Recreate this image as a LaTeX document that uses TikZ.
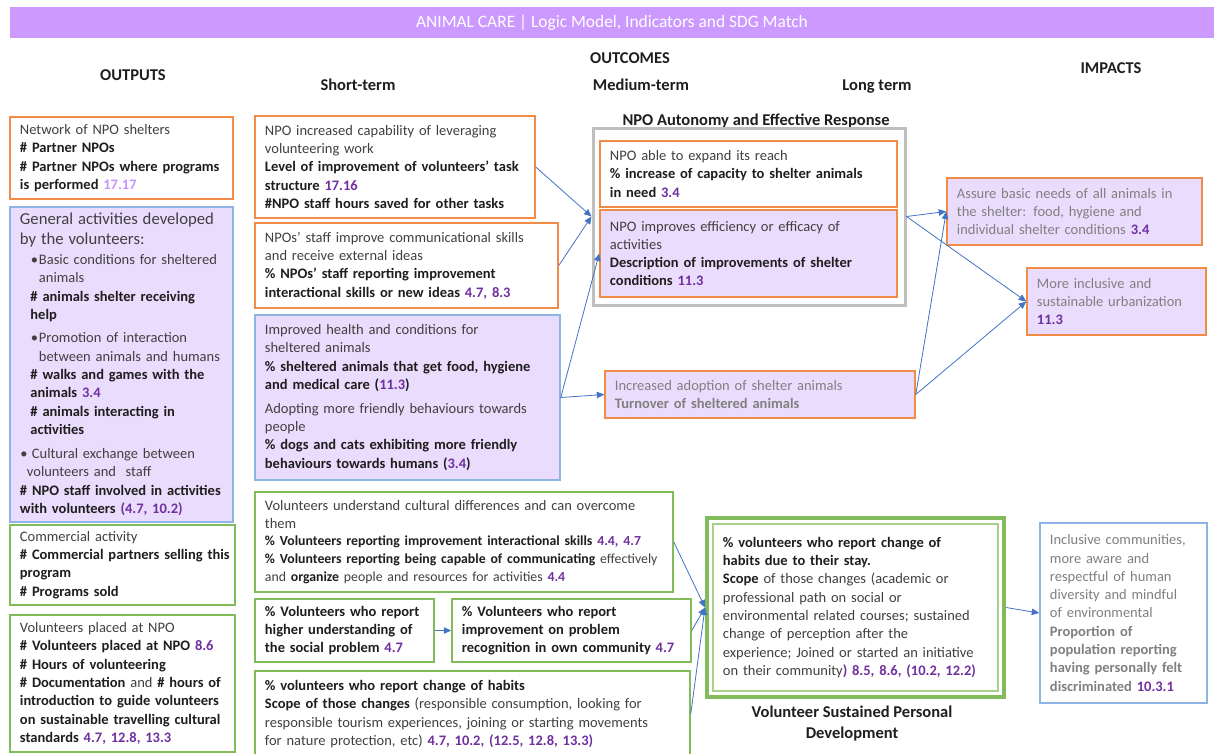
\documentclass[tikz,border=0pt]{standalone}
\usepackage{fontspec}
\setmainfont{Carlito}
\usetikzlibrary{arrows.meta}

% palette
\definecolor{titlec}{RGB}{204,153,255}
\definecolor{orangeb}{RGB}{240,140,70}
\definecolor{blueb}{RGB}{141,180,226}
\definecolor{greenb}{RGB}{130,188,90}
\definecolor{greenl}{RGB}{169,209,142}
\definecolor{lav}{RGB}{234,220,252}
\definecolor{grayb}{RGB}{191,191,191}
\definecolor{tcol}{RGB}{64,64,64}
\definecolor{bk}{RGB}{30,30,30}
\definecolor{gtx}{RGB}{128,128,128}
\definecolor{sdgc}{RGB}{112,48,160}
\definecolor{lp}{RGB}{196,150,250}
\definecolor{arrowc}{RGB}{68,114,196}

% bold indicator text and SDG targets
\newcommand\bb[1]{\textbf{\color{bk}#1}}
\newcommand\sdg[1]{\textbf{\color{sdgc}#1}}

\tikzset{
  box/.style={draw, rectangle, inner sep=0pt, line width=1.5pt},
  obox/.style={box, draw=orangeb, fill=white},
  olbox/.style={box, draw=orangeb, fill=lav},
  bbox/.style={box, draw=blueb, fill=lav},
  bwbox/.style={box, draw=blueb, fill=white},
  gbox/.style={box, draw=greenb, fill=white},
  txt/.style={inner sep=0pt, align=left, font=\fontsize{14.5}{18.3}\selectfont, text=tcol},
  head/.style={inner sep=0pt, font=\bfseries\fontsize{16.5}{21}\selectfont, text=bk},
  link/.style={draw=arrowc, line width=0.8pt, -{Triangle[length=7.5pt,width=6.5pt]}},
}

% box with corners (x1,y1) (x2,y2) and a left-aligned text block inside
\newcommand\tbox[7]{%
  \pgfmathsetmacro\tbw{(#4)-(#2)}%
  \pgfmathsetmacro\tbh{(#5)-(#3)}%
  \pgfmathsetmacro\tbx{((#2)+(#4))/2}%
  \pgfmathsetmacro\tby{((#3)+(#5))/2}%
  \pgfmathsetmacro\tbt{(#4)-(#2)-8}%
  \node[#6, minimum width=\tbw pt, minimum height=\tbh pt] (#1) at (\tbx,\tby) {};
  \node[txt, text width=\tbt pt, anchor=west] (#1-txt) at ([xshift=10.5pt]#1.west) {#7};
}

\begin{document}
\begin{tikzpicture}[x=1pt,y=-1pt]
\useasboundingbox (0,0) rectangle (1214,753);

% title bar
\node[fill=titlec, minimum width=1204pt, minimum height=31pt, inner sep=0pt,
      text=white, font=\fontsize{17.4}{20}\selectfont] (title) at (612,22.5)
  {ANIMAL CARE | Logic Model, Indicators and SDG Match};

% column headings
\node[head, anchor=base] (hout)   at (133,80) {OUTPUTS};
\node[head, anchor=base] (houtc)  at (630,63) {OUTCOMES};
\node[head, anchor=base] (hshort) at (358,90) {Short-term};
\node[head, anchor=base] (hmed)   at (641,90) {Medium-term};
\node[head, anchor=base] (hlong)  at (877,90) {Long term};
\node[head, anchor=base] (himp)   at (1111,73) {IMPACTS};

% ---------- outputs ----------
\tbox{op1}{10}{117}{233}{199}{obox}{%
Network of NPO shelters\\
\bb{\# Partner NPOs}\\
\bb{\# Partner NPOs where programs}\\
\bb{is performed} \textbf{\color{lp}17.17}}

\tbox{op2}{10}{207}{233}{522}{bbox}{%
{\fontsize{16.7}{20}\selectfont General activities developed\\by the volunteers:\par}
\vspace{1.5pt}
\hspace*{11pt}\makebox[8pt][l]{•}Basic conditions for sheltered\\
\hspace*{19pt}animals\\
\hspace*{10.5pt}\bb{\# animals shelter receiving}\\
\hspace*{10.5pt}\bb{help}\\[5pt]
\hspace*{11pt}\makebox[8pt][l]{•}Promotion of interaction\\
\hspace*{19pt}between animals and humans\\
\hspace*{10.5pt}\bb{\# walks and games with the}\\
\hspace*{10.5pt}\bb{animals} \sdg{3.4}\\
\hspace*{10.5pt}\bb{\# animals interacting in}\\
\hspace*{10.5pt}\bb{activities}\\[6pt]
\hspace*{0.5pt}\makebox[11.5pt][l]{•}Cultural exchange between\\
\hspace*{7pt}volunteers and\ \ staff\\
\bb{\# NPO staff involved in activities}\\
\bb{with volunteers} \sdg{(4.7, 10.2)}}

\tbox{op3}{10}{525}{235}{605}{gbox}{%
Commercial activity\\
\bb{\# Commercial partners selling this}\\
\bb{program}\\
\bb{\# Programs sold}}

\tbox{op4}{10}{615}{235}{752}{gbox}{%
Volunteers placed at NPO\\
\bb{\# Volunteers placed at NPO} \sdg{8.6}\\
\bb{\# Hours of volunteering}\\
\bb{\# Documentation} and \bb{\# hours of}\\
\bb{introduction to guide volunteers}\\
\bb{on sustainable travelling cultural}\\
\bb{standards} \sdg{4.7, 12.8, 13.3}}

% ---------- short-term outcomes ----------
\tbox{st1}{255}{116}{535}{218}{obox}{%
NPO increased capability of leveraging\\
volunteering work\\
\bb{Level of improvement of volunteers’ task}\\
\bb{structure} \sdg{17.16}\\
\bb{\#NPO staff hours saved for other tasks}}

\tbox{st2}{255}{223}{558}{308}{obox}{%
NPOs’ staff improve communicational skills\\
and receive external ideas\\
\bb{\% NPOs’ staff reporting improvement}\\
\bb{interactional skills or new ideas} \sdg{4.7, 8.3}}

\tbox{st3}{255}{315}{560}{480}{bbox}{%
Improved health and conditions for\\
sheltered animals\\
\bb{\% sheltered animals that get food, hygiene}\\
\bb{and medical care (}\sdg{11.3}\bb{)}\\[5.5pt]
Adopting more friendly behaviours towards\\
people\\
\bb{\% dogs and cats exhibiting more friendly}\\
\bb{behaviours towards humans (}\sdg{3.4}\bb{)}}

\tbox{st4}{255}{492}{673}{592}{gbox}{%
Volunteers understand cultural differences and can overcome\\
them\par
\fontsize{13.8}{17.2}\selectfont
\bb{\% Volunteers reporting improvement interactional skills} \sdg{4.4, 4.7}\\
\bb{\% Volunteers reporting being capable of communicating} effectively\\
and \bb{organize} people and resources for activities \sdg{4.4}}

\tbox{st5}{255}{599}{434}{662}{gbox}{%
\bb{\% Volunteers who report}\\
\bb{higher understanding of}\\
\bb{the social problem} \sdg{4.7}}

\tbox{st6}{452}{599}{691}{662}{gbox}{%
\bb{\% Volunteers who report}\\
\bb{improvement on problem}\\
\bb{recognition in own community} \sdg{4.7}}

\tbox{st7}{255}{671}{690}{757}{gbox}{%
\bb{\% volunteers who report change of habits}\\
\bb{Scope of those changes} (responsible consumption, looking for\\
responsible tourism experiences, joining or starting movements\\
for nature protection, etc) \sdg{4.7, 10.2, (12.5, 12.8, 13.3)}}

% ---------- medium-term outcomes ----------
\node[head, anchor=base] (autolbl) at (756,125) {NPO Autonomy and Effective Response};
\node[draw=grayb, line width=3pt, inner sep=0pt, minimum width=312pt, minimum height=177pt]
  (auto) at (749,216.5) {};

\tbox{md1}{600}{141}{897}{207}{obox}{%
NPO able to expand its reach\\
\bb{\% increase of capacity to shelter animals}\\
\bb{in need} \sdg{3.4}}

\tbox{md2}{600}{210}{897}{297}{olbox}{%
NPO improves efficiency or efficacy of\\
activities\\
\bb{Description of improvements of shelter}\\
\bb{conditions} \sdg{11.3}}

\tbox{md3}{605}{371}{915}{418}{olbox}{%
\color{gtx}Increased adoption of shelter animals\\
\textbf{Turnover of sheltered animals}}

% ---------- long-term outcomes ----------
\tbox{lt1}{947}{178}{1202}{245}{olbox}{%
\color{gtx}Assure basic needs of all animals in\\
the shelter: food, hygiene and\\
individual shelter conditions \sdg{3.4}}

\tbox{lt2}{1027}{268}{1206}{335}{olbox}{%
\color{gtx}More inclusive and\\
sustainable urbanization\\
\sdg{11.3}}

% volunteer development: double green frame
\node[draw=greenb, line width=4pt, fill=white, inner sep=0pt,
      minimum width=297pt, minimum height=179pt] (dev) at (855.5,607.5) {};
\tbox{devin}{713}{524}{998}{691}{box, draw=greenl, fill=white}{%
\bb{\% volunteers who report change of}\\
\bb{habits due to their stay.}\\
\bb{Scope} of those changes (academic or\\
professional path on social or\\
environmental related courses; sustained\\
change of perception after the\\
experience; Joined or started an initiative\\
on their community\sdg{) 8.5, 8.6, (10.2, 12.2)}}
\node[head, anchor=north, align=center] (devlbl) at (852,705.6)
  {Volunteer Sustained Personal\\Development};

% ---------- impact ----------
\tbox{imp}{1040}{523}{1207}{703}{bwbox}{%
\color{gtx}Inclusive communities,\\
more aware and\\
respectful of human\\
diversity and mindful\\
of environmental\\
\textbf{Proportion of}\\
\textbf{population reporting}\\
\textbf{having personally felt}\\
\textbf{discriminated} \sdg{10.3.1}}

% ---------- connectors ----------
\draw[link] (st1.east) -- (auto.west);
\draw[link] (st2.east) -- (auto.west);
\draw[link] (st3.east) -- (md2.west);
\draw[link] (st3.east) -- (md3.west);
\draw[link] (auto.east) -- (lt1.west);
\draw[link] (auto.east) -- (lt2.west);
\draw[link] (md3.east) -- (lt1.west);
\draw[link] (md3.east) -- (lt2.west);
\draw[link] (st5.east) -- (st6.west);
\draw[link] (st4.east) -- (dev.west);
\draw[link] (st6.east) -- (dev.west);
\draw[link] (st7.east) -- (dev.west);
\draw[link] (dev.east) -- (imp.west);

\end{tikzpicture}
\end{document}
